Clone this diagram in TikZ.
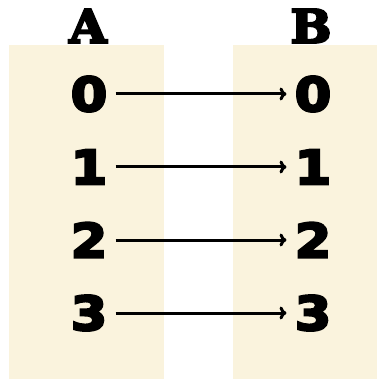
\documentclass[tikz,border=0pt]{standalone}
\usepackage{fontspec}
\usetikzlibrary{arrows.meta}
\newfontfamily\digitfont{DejaVu Sans}[UprightFont=*-Bold,FakeBold=5,FakeStretch=1.12]
\newfontfamily\letterfont{DejaVu Serif}[UprightFont=*-Bold,FakeBold=5,FakeStretch=1.05]
\definecolor{panel}{HTML}{FAF3DD}
\begin{document}
\begin{tikzpicture}[x=1pt,y=-1pt,
  digit/.style={inner sep=0pt,font=\digitfont\fontsize{47}{47}\selectfont,anchor=center},
  letter/.style={inner sep=0pt,font=\letterfont\fontsize{46}{46}\selectfont,anchor=center},
  maparrow/.style={line width=3pt,-{To[length=7pt,width=13pt,line width=3pt]},shorten <=8pt,shorten >=8pt}]
\useasboundingbox (0,0) rectangle (377,379);
\fill[panel] (9,45) rectangle (164,379);
\fill[panel] (233,45) rectangle (377,379);
\node[letter] (A) at (88,26) {A};
\node[letter] (B) at (311,26) {B};
\foreach \i/\y in {0/94,1/167,2/240,3/313}{
  \node[digit] (a\i) at (89,\y) {\i};
  \node[digit] (b\i) at (313,\y) {\i};
}
\foreach \i in {0,...,3}{
  \draw[maparrow] (a\i) -- (b\i);
}
\end{tikzpicture}
\end{document}
